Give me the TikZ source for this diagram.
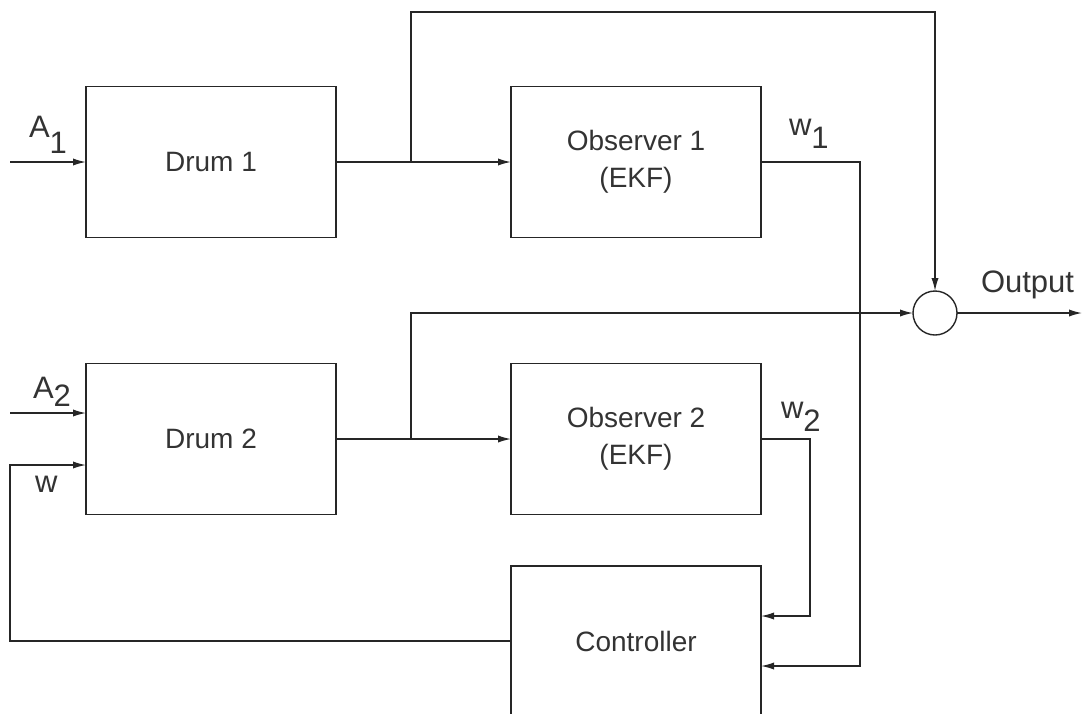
\documentclass[tikz,border=0pt]{standalone}
\usepackage{fontspec}
\setmainfont{Liberation Sans}
\usetikzlibrary{arrows.meta}
\begin{document}
\begin{tikzpicture}[x=0.5pt,y=-0.5pt,
  every node/.style={inner sep=0pt,outer sep=0pt,text=black!80},
  blk/.style={draw=black!85,line width=0.7pt,minimum width=125pt,minimum height=75.5pt,align=center,font=\fontsize{14}{18.5}\selectfont},
  lbl/.style={anchor=base west,font=\fontsize{15.5}{18}\selectfont},
  wire/.style={draw=black!85,line width=0.7pt},
  arr/.style={wire,-{Latex[length=6.5pt,width=3.6pt]}}]
\useasboundingbox (0,0) rectangle (1085,713);
\clip (0,0) rectangle (1085,713);
\node[blk] (drum1) at (211,162) {Drum 1};
\node[blk] (obs1) at (636,162) {Observer 1\\(EKF)};
\node[blk] (drum2) at (211,439) {Drum 2};
\node[blk] (obs2) at (636,439) {Observer 2\\(EKF)};
\node[blk,minimum height=75pt] (ctrl) at (636,641) {Controller};
\node[draw=black!85,line width=0.7pt,circle,minimum size=22pt] (sum) at (935,313) {};
\coordinate (a1s) at (10,162);
\coordinate (a2s) at (10,413);
\coordinate (br1) at (411,162);
\coordinate (br2) at (411,439);
\coordinate (top) at (935,12);
\coordinate (w1b) at (860,666);
\coordinate (w2b) at (810,616);
\coordinate (wc) at (10,465);
\coordinate (out) at (1082,313);
\draw[arr] (a1s) -- (drum1.west);
\draw[arr] (a2s) -- (a2s -| drum2.west);
\draw[arr] (drum1.east) -- (obs1.west);
\draw[arr] (drum2.east) -- (obs2.west);
\draw[arr] (br1) |- (top) -- (sum.north);
\draw[arr] (br2) |- (sum.west);
\draw[arr] (sum.east) -- (out);
\draw[arr] (obs1.east) -| (w1b) -- (w1b -| ctrl.east);
\draw[arr] (obs2.east) -| (w2b) -- (w2b -| ctrl.east);
\draw[arr] (ctrl.west) -| (wc) -- (wc -| drum2.west);
\node[lbl] (lA1) at (29,137) {A\raisebox{-0.52em}{1}};
\node[lbl] (lA2) at (33,398) {A\raisebox{-0.28em}{2}};
\node[lbl] (lw) at (35,492) {w};
\node[lbl] (lw1) at (789,135) {w\raisebox{-0.45em}{1}};
\node[lbl] (lw2) at (781,418) {w\raisebox{-0.45em}{2}};
\node[lbl] (lout) at (981,292) {Output};
\end{tikzpicture}
\end{document}
